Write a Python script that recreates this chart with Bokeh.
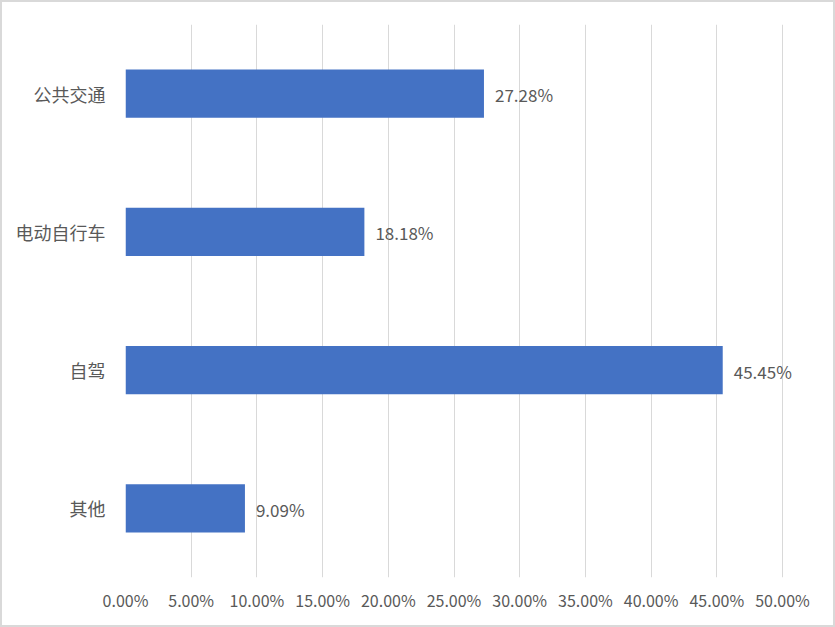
from bokeh.plotting import figure
from bokeh.models import FactorRange, Range1d, NumeralTickFormatter, FixedTicker, ColumnDataSource, LabelSet
from bokeh.core.properties import value
from bokeh.embed import file_html
from bokeh.resources import INLINE

categories = ["公共交通", "电动自行车", "自驾", "其他"]
shares = [0.2728, 0.1818, 0.4545, 0.0909]
x_ticks = [0.0, 0.05, 0.10, 0.15, 0.20, 0.25, 0.30, 0.35, 0.40, 0.45, 0.50]

FONT = "Noto Sans CJK SC"
TXT = "#595959"
BAR = "#4472C4"
GRID = "#d9d9d9"

src = ColumnDataSource(dict(
    cat=categories,
    val=shares,
    lbl=["{:.2f}%".format(v * 100) for v in shares],
))

# x range extends a little past the last (50%) tick so the 45.45% label is not clipped
p = figure(
    width=835, height=627,
    y_range=FactorRange(*categories[::-1], range_padding=0),
    x_range=Range1d(0, 0.535),
    output_backend="svg", toolbar_location=None,
    min_border_left=123, min_border_right=9, min_border_top=22, min_border_bottom=52,
)
p.styles = {"border": "2px solid #d9d9d9", "box-sizing": "border-box"}

p.hbar(y="cat", right="val", left=0, height=0.35, source=src, color=BAR, line_color=None)
labels = LabelSet(x="val", y="cat", text="lbl", source=src, x_offset=11, y_offset=-1,
                  text_baseline="middle", text_align="left",
                  text_font=value(FONT), text_font_size=value("17px"), text_color=value(TXT))
p.add_layout(labels)

p.outline_line_color = None
p.ygrid.grid_line_color = None
p.xgrid.grid_line_color = GRID
p.xgrid.grid_line_width = 1
p.xaxis.ticker = FixedTicker(ticks=x_ticks)
p.xaxis.formatter = NumeralTickFormatter(format="0.00%")
for ax in (p.xaxis[0], p.yaxis[0]):
    ax.axis_line_color = None
    ax.major_tick_line_color = None
    ax.minor_tick_line_color = None
    ax.major_label_text_font = FONT
    ax.major_label_text_color = TXT
p.xaxis.major_label_text_font_size = "16px"
p.yaxis.major_label_text_font_size = "18px"
p.xaxis.major_label_standoff = 4
p.yaxis.major_label_standoff = 14

open("out.html", "w").write(file_html(p, INLINE))
